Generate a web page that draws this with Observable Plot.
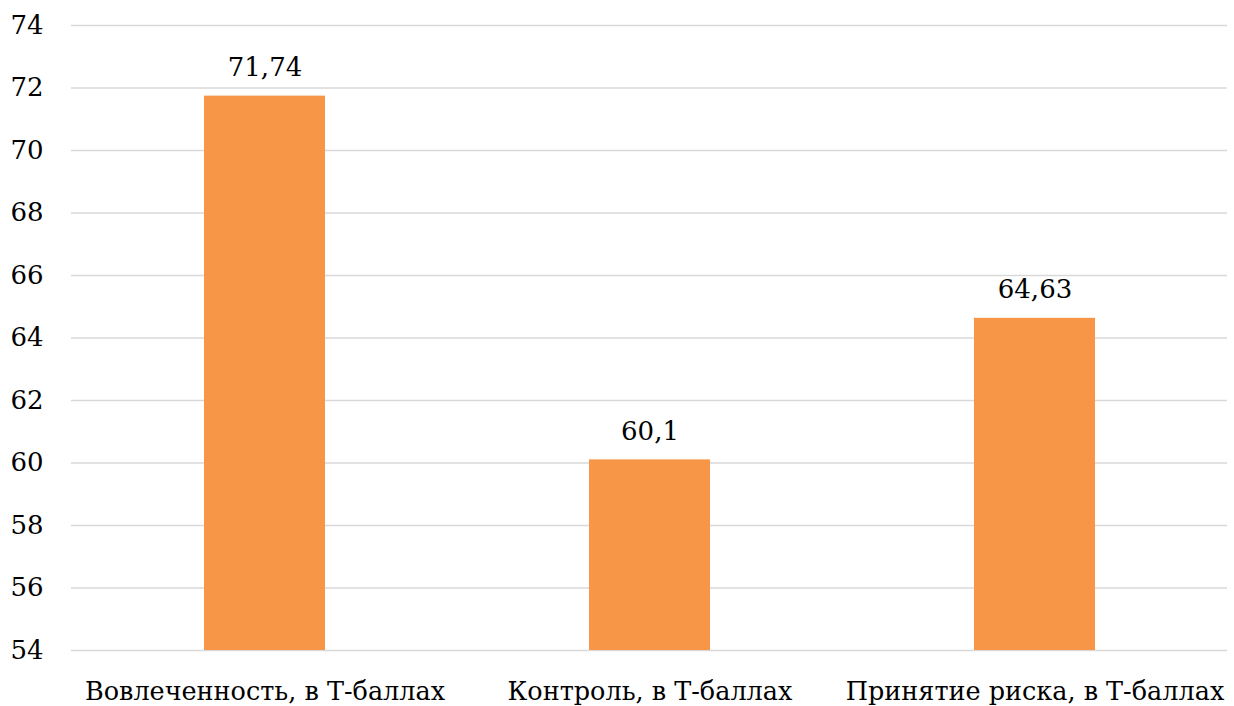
<!DOCTYPE html>
<html>
<head>
<meta charset="utf-8">
<script src="https://cdn.jsdelivr.net/npm/d3@7"></script>
<script src="https://cdn.jsdelivr.net/npm/@observablehq/plot@0.6"></script>
<style>
  html, body { margin: 0; padding: 0; background: #fff; }
  #chart svg { display: block; }
</style>
</head>
<body>
<div id="chart"></div>
<script>
const categories = ["Вовлеченность, в Т-баллах", "Контроль, в Т-баллах", "Принятие риска, в Т-баллах"];
const values = [71.74, 60.1, 64.63];
const yTicks = [54, 56, 58, 60, 62, 64, 66, 68, 70, 72, 74];
const yMin = 54, yMax = 74;

const data = categories.map((c, i) => ({category: c, value: values[i], label: String(values[i]).replace(".", ",")}));

const serif = "DejaVu Serif";
const fontSize = 26;
const chart = Plot.plot({
  width: 1234,
  height: 706,
  marginLeft: 71,
  marginRight: 7,
  marginTop: 25,
  marginBottom: 56,
  style: {fontFamily: serif, fontSize: fontSize + "px", color: "#000", background: "#fff"},
  x: {domain: categories, paddingInner: 0.686, paddingOuter: 0.343, label: null},
  y: {domain: [yMin, yMax], label: null},
  marks: [
    Plot.gridY(yTicks, {stroke: "#d9d9d9", strokeOpacity: 1, strokeWidth: 1.5}),
    Plot.barY(data, {x: "category", y1: () => yMin, y2: "value", fill: "#f79646"}),
    Plot.text(data, {x: "category", y: "value", text: "label", lineAnchor: "bottom", dy: -20, fill: "#000", fontSize: fontSize, fontFamily: serif}),
    Plot.axisY(yTicks, {tickSize: 0, tickPadding: 28, fontSize: fontSize, fontFamily: serif, label: null, tickFormat: d => String(d)}),
    Plot.axisX({tickSize: 0, tickPadding: 31, fontSize: 25.5, fontFamily: serif, label: null})
  ]
});
document.getElementById("chart").appendChild(chart);
</script>
</body>
</html>
